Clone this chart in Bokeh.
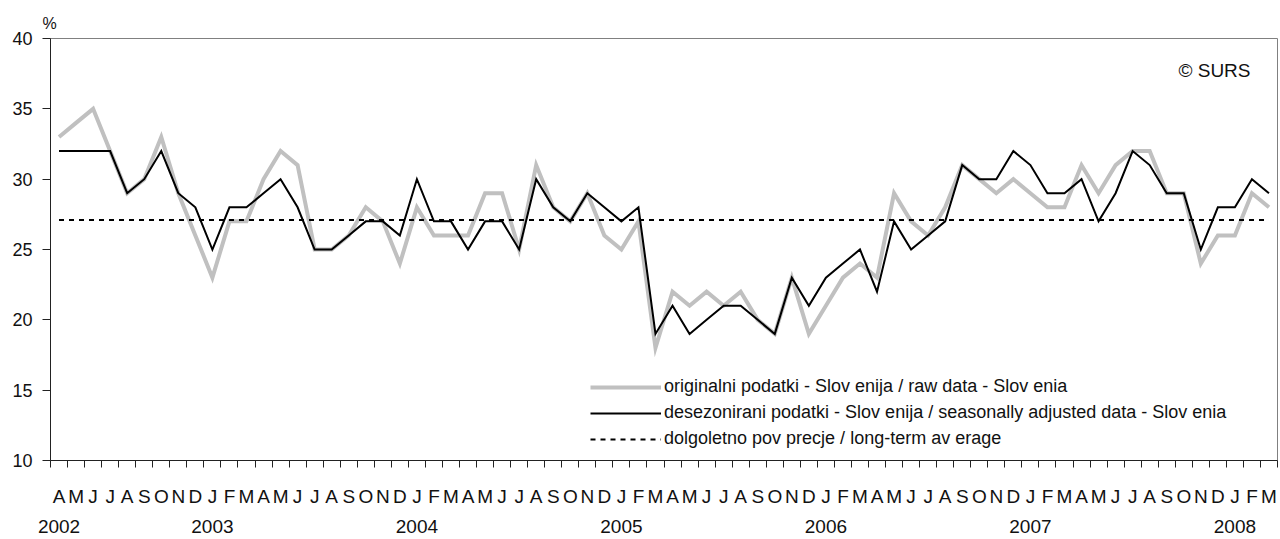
from bokeh.plotting import figure
from bokeh.models import Range1d, FixedTicker, LinearAxis, Legend, LegendItem, Label, Title
from bokeh.embed import file_html
from bokeh.resources import INLINE

# ---------------- data ----------------
months = (["A", "M", "J", "J", "A", "S", "O", "N", "D"]
          + ["J", "F", "M", "A", "M", "J", "J", "A", "S", "O", "N", "D"] * 5
          + ["J", "F", "M"])
years = ["2002", "2003", "2004", "2005", "2006", "2007", "2008"]
year_start_index = [0, 9, 21, 33, 45, 57, 69]

raw_data = [33, 34, 35, 32, 29, 30, 33, 29, 26,
            23, 27, 27, 30, 32, 31, 25, 25, 26, 28, 27, 24,
            28, 26, 26, 26, 29, 29, 25, 31, 28, 27, 29, 26,
            25, 27, 18, 22, 21, 22, 21, 22, 20, 19, 23, 19,
            21, 23, 24, 23, 29, 27, 26, 28, 31, 30, 29, 30,
            29, 28, 28, 31, 29, 31, 32, 32, 29, 29, 24, 26,
            26, 29, 28]
sa_data = [32, 32, 32, 32, 29, 30, 32, 29, 28,
           25, 28, 28, 29, 30, 28, 25, 25, 26, 27, 27, 26,
           30, 27, 27, 25, 27, 27, 25, 30, 28, 27, 29, 28,
           27, 28, 19, 21, 19, 20, 21, 21, 20, 19, 23, 21,
           23, 24, 25, 22, 27, 25, 26, 27, 31, 30, 30, 32,
           31, 29, 29, 30, 27, 29, 32, 31, 29, 29, 25, 28,
           28, 30, 29]
long_term_average = 27.1

labels = ["originalni podatki - Slov enija / raw data - Slov enia",
          "desezonirani podatki - Slov enija / seasonally adjusted data - Slov enia",
          "dolgoletno pov precje / long-term av erage"]

FONT = "Liberation Sans"
n = len(months)
x = list(range(n))

p = figure(width=1280, height=539, output_backend="svg", toolbar_location=None,
           x_range=Range1d(-0.5, n - 0.5), y_range=Range1d(10, 40),
           x_axis_type=None, y_axis_type=None,
           min_border_left=50, min_border_right=3, min_border_top=38, min_border_bottom=79)
p.xgrid.visible = False
p.ygrid.visible = False
p.outline_line_color = "#808080"
p.outline_line_width = 1
p.background_fill_color = "white"
p.border_fill_color = "white"

# "%" unit label above the y axis
p.add_layout(Title(text="%", align="left", offset=-8, standoff=14,
                   text_font=FONT, text_font_size="16px", text_font_style="normal",
                   text_color="#111111"), "above")

# y axis
yax = LinearAxis(ticker=FixedTicker(ticks=[10, 15, 20, 25, 30, 35, 40]))
yax.major_tick_out = 8
yax.major_tick_in = 0
yax.minor_tick_out = 0
yax.minor_tick_in = 0
yax.axis_line_color = "#222222"
yax.major_tick_line_color = "#222222"
yax.major_label_text_font = FONT
yax.major_label_text_font_size = "18px"
yax.major_label_text_color = "#111111"
yax.major_label_standoff = 10
p.add_layout(yax, "left")

# month axis
max_ = LinearAxis(ticker=FixedTicker(ticks=x, minor_ticks=[i - 0.5 for i in range(n + 1)]))
max_.major_tick_out = 0
max_.major_tick_in = 0
max_.minor_tick_out = 7
max_.minor_tick_in = 0
max_.axis_line_color = "#222222"
max_.minor_tick_line_color = "#222222"
max_.major_label_overrides = {i: months[i] for i in x}
max_.major_label_text_font = FONT
max_.major_label_text_font_size = "19px"
max_.major_label_text_color = "#111111"
max_.major_label_standoff = 18
p.add_layout(max_, "below")

# year axis
yrax = LinearAxis(ticker=FixedTicker(ticks=year_start_index))
yrax.major_tick_out = 0
yrax.major_tick_in = 0
yrax.minor_tick_out = 0
yrax.minor_tick_in = 0
yrax.axis_line_color = None
yrax.major_label_overrides = {year_start_index[i]: years[i] for i in range(len(years))}
yrax.major_label_text_font = FONT
yrax.major_label_text_font_size = "19px"
yrax.major_label_text_color = "#111111"
yrax.major_label_standoff = 10
p.add_layout(yrax, "below")

r_raw = p.line(x, raw_data, line_color="#C0C0C0", line_width=4, line_join="miter")
r_avg = p.line([0, n - 1], [long_term_average, long_term_average],
               line_color="black", line_width=2, line_dash="5 5")
r_sa = p.line(x, sa_data, line_color="black", line_width=2, line_join="miter")

legend = Legend(items=[LegendItem(label=labels[0], renderers=[r_raw]),
                       LegendItem(label=labels[1], renderers=[r_sa]),
                       LegendItem(label=labels[2], renderers=[r_avg])],
                location=(540, 11))
legend.glyph_width = 71
legend.glyph_height = 20
legend.label_height = 20
legend.spacing = 5
legend.padding = 0
legend.margin = 0
legend.label_standoff = 3
legend.border_line_color = None
legend.background_fill_alpha = 0
legend.label_text_font = FONT
legend.label_text_font_size = "18px"
legend.label_text_color = "#111111"
p.add_layout(legend, "center")

p.add_layout(Label(x=n - 0.5, y=37.7, x_offset=-27, text="© SURS",
                   text_align="right", text_baseline="middle",
                   text_font=FONT, text_font_size="19px", text_color="#111111"))

open("out.html", "w").write(file_html(p, INLINE))
